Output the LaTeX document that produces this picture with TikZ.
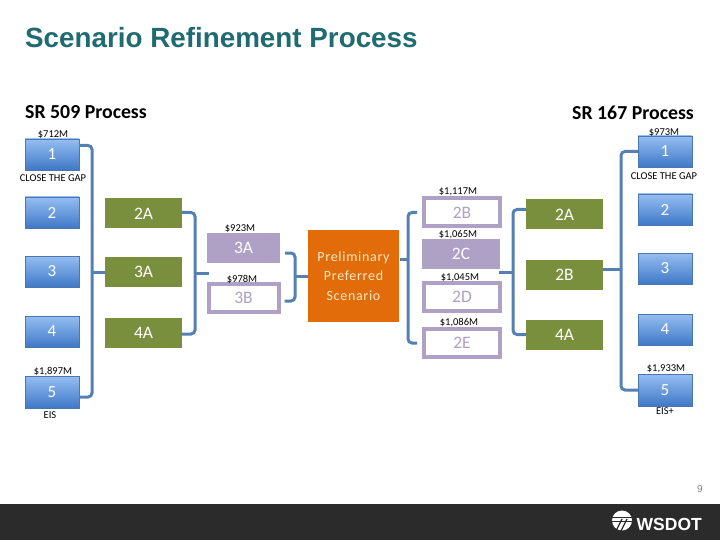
\documentclass[tikz,border=0pt]{standalone}
\usepackage{fontspec}
\setmainfont{Carlito}
\newfontfamily\titlefont{Liberation Sans}
\usetikzlibrary{positioning,calc}
\definecolor{titleteal}{HTML}{1F6B70}
\definecolor{blueedge}{HTML}{4A78AE}
\definecolor{bluetop}{HTML}{95BEF2}
\definecolor{bluelow}{HTML}{3F78C6}
\definecolor{greenbox}{HTML}{7A8F3D}
\definecolor{lilacbox}{HTML}{AFA0C6}
\definecolor{orangebox}{HTML}{E36C0A}
\definecolor{busblue}{HTML}{5580B2}
\definecolor{footerdark}{HTML}{2B2B2B}
\definecolor{palecream}{HTML}{F6E9C9}
\tikzset{
	bluebox/.style={
		draw=blueedge,
		line width=0.8pt,
		top color=bluetop,
		bottom color=bluelow,
		minimum width=54pt,
		minimum height=31pt,
		inner sep=0pt,
		outer sep=0pt,
		text=white,
		font=\fontsize{17}{19}\selectfont
	},
	greenbox/.style={
		fill=greenbox,
		minimum width=77pt,
		minimum height=30pt,
		inner sep=0pt,
		outer sep=0pt,
		text=white,
		font=\fontsize{17.5}{19}\selectfont
	},
	lilacfull/.style={
		fill=lilacbox,
		minimum width=78pt,
		minimum height=30pt,
		inner sep=0pt,
		outer sep=0pt,
		text=white,
		font=\fontsize{17.5}{19}\selectfont
	},
	lilachollow/.style={
		draw=lilacbox,
		line width=4pt,
		fill=white,
		minimum width=76pt,
		minimum height=28pt,
		inner sep=0pt,
		outer sep=0pt,
		text=lilacbox,
		font=\fontsize{17.5}{19}\selectfont
	},
	costlabel/.style={
		inner sep=0pt,
		text=black,
		font=\fontsize{10.5}{12}\selectfont
	},
	headlabel/.style={
		inner sep=0pt,
		text=black,
		font=\fontsize{19.8}{22}\selectfont\bfseries
	},
	busline/.style={
		draw=busblue,
		line width=3pt,
		rounded corners=4pt
	}
}
\begin{document}
\begin{tikzpicture}[x=1pt,y=-1pt]
	\useasboundingbox (0,0) rectangle (720,540);
	
	%--------------------------------------------------
	% Title and footer
	%--------------------------------------------------
	
	\fill[footerdark] (0,504) rectangle (720,540);
	
	\node (title) [anchor=west,inner sep=0pt,text=titleteal,font=\titlefont\fontsize{27.8}{30}\selectfont\bfseries] at (25,38)
	{Scenario Refinement Process};
	
	\node (pagenum) [inner sep=0pt,text=gray,font=\titlefont\fontsize{10}{11}\selectfont] at (700,489)
	{9};
	
	\node (logotext) [anchor=east,inner sep=0pt,text=white,font=\titlefont\fontsize{17.5}{20}\selectfont\bfseries] at (702,524.5)
	{WSDOT};
	
	\fill[white] (622,520.5) circle (10);
	\draw[footerdark,line width=1pt] (612,517) -- (632,517);
	\draw[footerdark,line width=1pt] (612,521) -- (632,521);
	\draw[footerdark,line width=1.2pt] (622,519) -- (616,531);
	\draw[footerdark,line width=1.2pt] (627,519) -- (621,531);
	
	\node (leftHead) [headlabel,anchor=west] at (25,112)
	{SR 509 Process};
	
	\node (rightHead) [headlabel,anchor=east] at (694,113)
	{SR 167 Process};
	
	%--------------------------------------------------
	% SR 509 nodes
	%--------------------------------------------------
	
	\node (lone) [bluebox] at (52,154.5) {1};
	
	\node (ltwo) [bluebox,below=27pt of lone] {2};
	
	\node (lthree) [bluebox,below=28pt of ltwo] {3};
	
	\node (lfour) [bluebox,below=29pt of lthree] {4};
	
	\node (lfive) [bluebox,below=29pt of lfour,minimum height=32pt] {5};
	
	\node (lgreenA) [greenbox,right=26pt of ltwo,yshift=-1pt] {2A};
	
	\node (lgreenB) [greenbox,right=26pt of lthree,yshift=-0.5pt] {3A};
	
	\node (lgreenC) [greenbox,right=26pt of lfour,yshift=-1pt] {4A};
	
	\node (lilacA) [lilacfull,minimum width=73pt] at (243.5,248) {3A};
	
	\node (lilacB) [lilachollow,minimum width=70pt,below=21pt of lilacA] {3B};
	
	%--------------------------------------------------
	% Centre node
	%--------------------------------------------------
	
	\node (prefer) [fill=orangebox,minimum width=91pt,minimum height=92pt,inner sep=0pt,outer sep=0pt,align=center,text=palecream,font=\fontsize{14}{19.5}\selectfont\addfontfeature{LetterSpace=5}] at (353.5,276)
	{Preliminary\\Preferred\\Scenario};
	
	%--------------------------------------------------
	% SR 167 nodes
	%--------------------------------------------------
	
	\node (optB) [lilachollow] at (462,212.5) {2B};
	
	\node (optC) [lilacfull,below=12.5pt of optB,xshift=-1pt] {2C};
	
	\node (optD) [lilachollow,below=14pt of optC,xshift=1pt] {2D};
	
	\node (optE) [lilachollow,below=18pt of optD] {2E};
	
	\node (rone) [bluebox] at (665,151.5) {1};
	
	\node (rtwo) [bluebox,below=27pt of rone] {2};
	
	\node (rthree) [bluebox,below=28pt of rtwo] {3};
	
	\node (rfour) [bluebox,below=30pt of rthree] {4};
	
	\node (rfive) [bluebox,below=29pt of rfour,minimum height=32pt] {5};
	
	\node (rgreenA) [greenbox,left=35pt of rtwo,yshift=-5pt] {2A};
	
	\node (rgreenB) [greenbox,below=30pt of rgreenA] {2B};
	
	\node (rgreenC) [greenbox,below=30pt of rgreenB] {4A};
	
	%--------------------------------------------------
	% Labels
	%--------------------------------------------------
	
	\node (costLone) [costlabel] at (53,135) {\$712M};
	
	\node (gapLeft) [costlabel] at (53,178) {CLOSE THE GAP};
	
	\node (costLfive) [costlabel] at (53,372) {\$1,897M};
	
	\node (eisLeft) [costlabel] at (50,415) {EIS};
	
	\node (costLilacA) [costlabel] at (240,228.5) {\$923M};
	
	\node (costLilacB) [costlabel] at (242,279) {\$978M};
	
	\node (costOptB) [costlabel] at (458,192) {\$1,117M};
	
	\node (costOptC) [costlabel] at (458,235) {\$1,065M};
	
	\node (costOptD) [costlabel] at (460,278) {\$1,045M};
	
	\node (costOptE) [costlabel] at (459,323) {\$1,086M};
	
	\node (costRone) [costlabel] at (664,132.5) {\$973M};
	
	\node (gapRight) [costlabel] at (664,176) {CLOSE THE GAP};
	
	\node (costRfive) [costlabel] at (666,369) {\$1,933M};
	
	\node (eisRight) [costlabel] at (665,411) {EIS+};
	
	%--------------------------------------------------
	% Connections
	%--------------------------------------------------
	
	\draw[busline] ([yshift=9pt]lone.east) -- ++(13,0) |- ([yshift=-5pt]lfive.east);
	
	\draw[busline] (lgreenB.west) -- ++(-13,0);
	
	\draw[busline] ([yshift=1pt]lgreenA.east) -- ++(13,0) |- ([yshift=-1.5pt]lgreenC.east);
	
	\draw[busline] ($(lilacA.south west)!0.5!(lilacB.north west)+(-11.5,0)$) -- ++(13,0);
	
	\draw[busline] ([xshift=5pt,yshift=-5pt]lilacA.east) -- ++(10,0) |- ([xshift=6pt,yshift=-3pt]lilacB.east);
	
	\draw[busline] ([xshift=-13pt]prefer.west) -- (prefer.west);
	
	\draw[busline] ([xshift=1pt,yshift=17pt]prefer.east) -- ++(8,0);
	
	\draw[busline] ([xshift=-7pt]optB.west) -- ++(-9,0) |- ([xshift=-7pt]optE.west);
	
	\draw[busline] ([yshift=5pt]rgreenA.west) -- ++(-13,0) |- (rgreenC.west);
	
	\draw[busline] ([xshift=-13pt,yshift=2.5pt]rgreenB.west) -- ++(-14,0);
	
	\draw[busline] (rone.west) -- ++(-17,0) |- (rfive.west);
	
	\draw[busline] ([yshift=5.5pt]rgreenB.east) -- ++(18,0);
	
\end{tikzpicture}
\end{document}
